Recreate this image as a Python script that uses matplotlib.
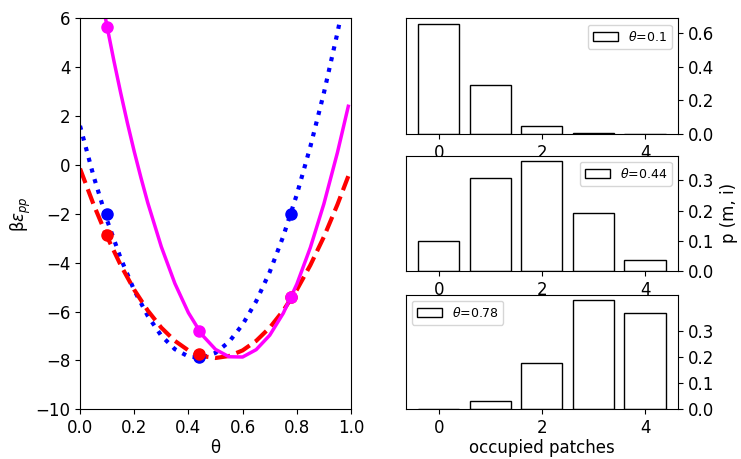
import matplotlib
matplotlib.use("Agg")
import matplotlib.pyplot as plt

plt.rcParams['font.size'] = 12
plt.rcParams['axes.labelpad'] = 1.5

# left panel: curves
theta_blue = [0.0, 0.05, 0.1, 0.15, 0.2, 0.25, 0.3, 0.35, 0.4, 0.45, 0.5,
              0.55, 0.6, 0.65, 0.7, 0.75, 0.8, 0.85, 0.9, 0.95, 1.0]
energy_blue = [1.60, -0.46, -2.27, -3.82, -5.13, -6.18, -6.99, -7.54, -7.84, -7.89, -7.69,
               -7.24, -6.53, -5.58, -4.38, -2.92, -1.21, 0.75, 2.95, 5.41, 8.13]

theta_red = [0.0, 0.05, 0.1, 0.15, 0.2, 0.25, 0.3, 0.35, 0.4, 0.45, 0.5,
             0.55, 0.6, 0.65, 0.7, 0.75, 0.8, 0.85, 0.9, 0.95, 0.99]
energy_red = [-0.15, -1.62, -2.94, -4.10, -5.11, -5.96, -6.66, -7.20, -7.59, -7.82, -7.90,
              -7.82, -7.59, -7.20, -6.66, -5.96, -5.11, -4.10, -2.94, -1.62, -0.46]

theta_mag = [0.095, 0.1, 0.125, 0.15, 0.175, 0.2, 0.225, 0.25, 0.3, 0.35, 0.4, 0.45, 0.5,
             0.55, 0.6, 0.65, 0.7, 0.75, 0.8, 0.85, 0.9, 0.95, 0.99]
energy_mag = [5.94, 5.65, 4.26, 2.95, 1.71, 0.55, -0.53, -1.55, -3.35, -4.85, -6.05, -6.95, -7.55,
              -7.85, -7.86, -7.56, -6.97, -6.07, -4.88, -3.38, -1.59, 0.51, 2.40]

theta_pts = [0.1, 0.44, 0.78]
pts_blue = [-2.0, -7.85, -2.0]
pts_red = [-2.85, -7.75, -5.4]
pts_mag = [5.65, -6.8, -5.4]

# right panels: occupancy distributions
patches = [0, 1, 2, 3, 4]
p_01 = [0.656, 0.292, 0.049, 0.004, 0.0001]
p_044 = [0.098, 0.309, 0.364, 0.191, 0.037]
p_078 = [0.002, 0.033, 0.177, 0.418, 0.370]
labels = [r'$\theta$=0.1', r'$\theta$=0.44', r'$\theta$=0.78']
yticks_top = [0.0, 0.2, 0.4, 0.6]
yticks_low = [0.0, 0.1, 0.2, 0.3]

fig = plt.figure(figsize=(7.41, 4.59), dpi=100)

ax = fig.add_axes([0.108, 0.1083, 0.3657, 0.8518])
ax.plot(theta_blue, energy_blue, ':', color='blue', lw=3)
ax.plot(theta_red, energy_red, '--', color='red', lw=3)
ax.plot(theta_mag, energy_mag, '-', color='magenta', lw=2.5)
ax.plot(theta_pts, pts_blue, 'o', color='blue', ms=8)
ax.plot(theta_pts, pts_red, 'o', color='red', ms=8)
ax.plot(theta_pts, pts_mag, 'o', color='magenta', ms=8)
ax.set_xlim(0, 1)
ax.set_ylim(-10, 6)
ax.set_xlabel('θ')
ax.set_ylabel(r'β$\varepsilon_{pp}$')

positions = [
    [0.5475, 0.7081, 0.3675, 0.2520],
    [0.5475, 0.4096, 0.3675, 0.2512],
    [0.5475, 0.1083, 0.3675, 0.2497],
]
dists = [p_01, p_044, p_078]
legend_locs = ['upper right', 'upper right', 'upper left']
yticks = [yticks_top, yticks_low, yticks_low]

for i, (pos, dist) in enumerate(zip(positions, dists)):
    bax = fig.add_axes(pos)
    bax.bar(patches, dist, width=0.8, color='white', edgecolor='black', label=labels[i])
    bax.yaxis.tick_right()
    bax.yaxis.set_label_position('right')
    bax.set_xticks([0, 2, 4])
    bax.set_yticks(yticks[i])
    bax.legend(loc=legend_locs[i], fontsize=9)
    if i == 1:
        bax.set_ylabel('p (m, i)', labelpad=4)
    if i == 2:
        bax.set_xlabel('occupied patches')

fig.savefig('out.png', dpi=100)
